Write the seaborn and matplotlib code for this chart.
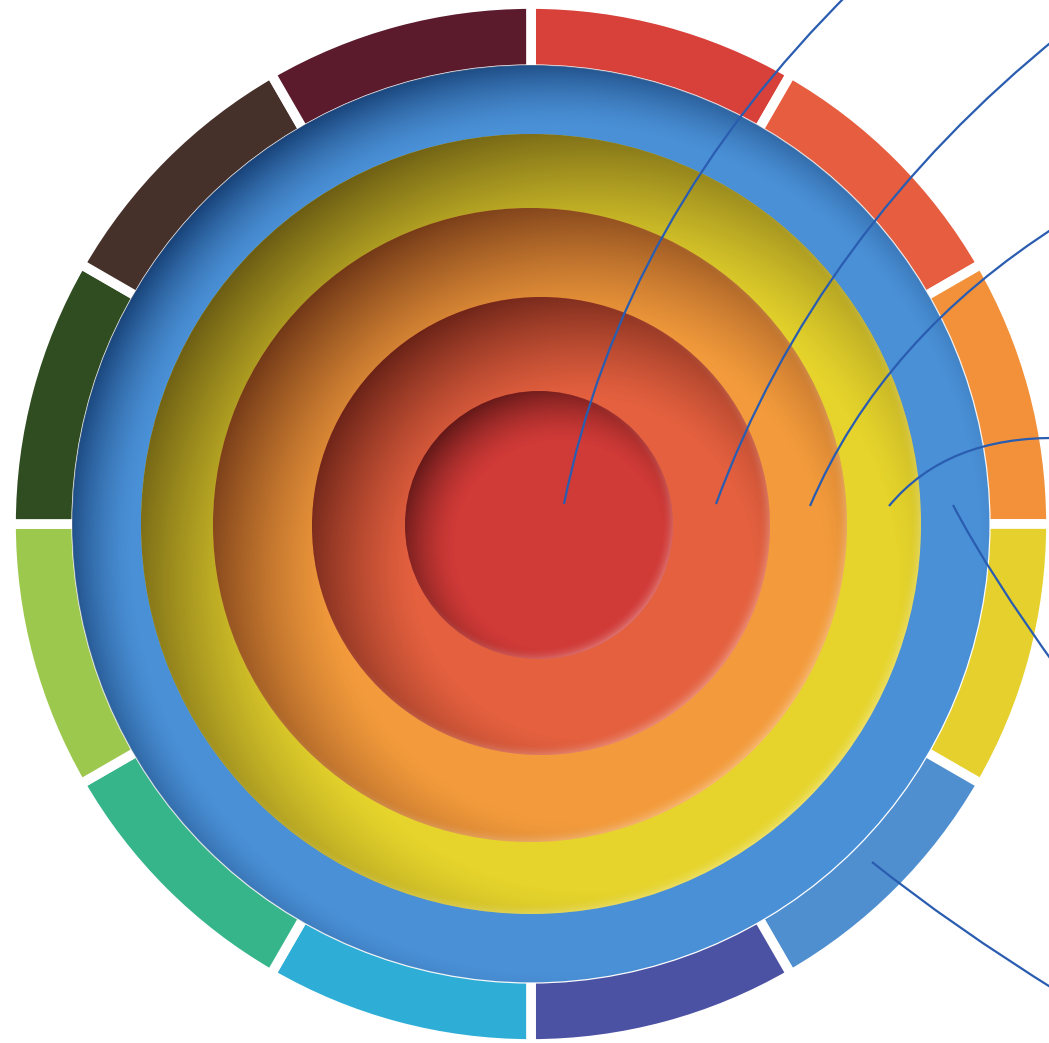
import numpy as np
import matplotlib
matplotlib.use("Agg")
import matplotlib.pyplot as plt
from matplotlib.patches import Circle, PathPatch
from matplotlib.path import Path
from matplotlib.colors import to_rgb
import seaborn as sns

W_PX, H_PX = 1049, 1043

# outer ring: 12 equal segments, clockwise from 12 o'clock
ring_colors = ["#d8403a", "#e65d3f", "#f2913a", "#e6d02e", "#4f8fd0", "#4c52a3",
               "#2eaed6", "#36b58b", "#9dc84e", "#304d22", "#46302a", "#5b1b2d"]
ring_values = [1] * 12

# concentric discs, outside -> inside
layer_names = ["blue", "yellow", "orange", "red-orange", "red"]
layer_colors = ["#4a90d6", "#e6d42c", "#f39b3c", "#e4603f", "#d03a37"]
layer_shadows = ["#0e3366", "#544610", "#5a2610", "#541810", "#461010"]

# geometry (pixel coords, y down)
RING_C, RING_R, RING_W = (531, 524), 516, 90
layer_centers = [(531, 524), (531, 524), (530, 525), (541, 526), (539, 525)]
layer_radii = [459, 390, 317, 229, 134]
shadow_width = [72, 170, 145, 120, 60]
shadow_amax = [0.85, 0.85, 0.85, 0.85, 0.8]
shadow_gamma = [1.5, 1.3, 1.3, 1.3, 1.5]

# leader lines: start (inside), control, end (off the edge)
leader_start = [(564, 504), (716, 504), (810, 506), (889, 506), (953, 505), (872, 862)]
leader_ctrl = [(622, 217), (816, 232), (882, 337), (947, 436), (989, 574), (952, 926)]
leader_end = [(852, -10), (1060, 35), (1060, 224), (1060, 438), (1060, 672), (1060, 993)]

sns.set_style("white")
palette = sns.color_palette(ring_colors)

fig = plt.figure(figsize=(W_PX / 100, H_PX / 100), dpi=100)
ax = fig.add_axes([0, 0, 1, 1])


def to_data(p):
    return (p[0], H_PX - p[1])


# outer segmented ring (inner part hidden under the blue disc)
ax.pie(ring_values, colors=palette, startangle=90, counterclock=False,
       radius=RING_R + 4, center=to_data(RING_C),
       wedgeprops=dict(width=RING_W, edgecolor="white", linewidth=7))

yy, xx = np.mgrid[0:H_PX, 0:W_PX] + 0.5


def edge_alpha(cx, cy, r, width, amax, gamma, sign=1):
    # inner shadow: shifted circle trick, sign=1 -> darkest at upper-left
    s = sign * width / (2 * np.sqrt(2))
    d = np.hypot(xx - (cx + s), yy - (cy + s)) - r
    return amax * np.clip((d + width / 2) / width, 0, 1) ** gamma


for i, name in enumerate(layer_names):
    cx, cy = layer_centers[i]
    r = layer_radii[i]
    disc = Circle(to_data((cx, cy)), r, facecolor=layer_colors[i],
                  edgecolor="white" if i == 0 else "none",
                  linewidth=0.9 if i == 0 else 0, zorder=2 + i * 3)
    ax.add_patch(disc)

    img = np.zeros((H_PX, W_PX, 4))
    img[..., :3] = to_rgb(layer_shadows[i])
    img[..., 3] = edge_alpha(cx, cy, r, shadow_width[i], shadow_amax[i],
                             shadow_gamma[i])
    im = ax.imshow(img, extent=(0, W_PX, 0, H_PX), origin="upper",
                   interpolation="bilinear", zorder=3 + i * 3)
    im.set_clip_path(disc)

    if i > 0:
        rim = np.ones((H_PX, W_PX, 4))
        rim[..., 3] = edge_alpha(cx, cy, r, 14, 0.3, 2.0, sign=-1)
        im2 = ax.imshow(rim, extent=(0, W_PX, 0, H_PX), origin="upper",
                        interpolation="bilinear", zorder=4 + i * 3)
        im2.set_clip_path(disc)

# leader lines
for p0, p1, p2 in zip(leader_start, leader_ctrl, leader_end):
    path = Path([to_data(p0), to_data(p1), to_data(p2)],
                [Path.MOVETO, Path.CURVE3, Path.CURVE3])
    ax.add_patch(PathPatch(path, facecolor="none", edgecolor="#2a5db0",
                           linewidth=1.6, zorder=30))

ax.set_xlim(0, W_PX)
ax.set_ylim(0, H_PX)
ax.set_aspect("auto")
ax.axis("off")

fig.savefig("out.png", dpi=100)
